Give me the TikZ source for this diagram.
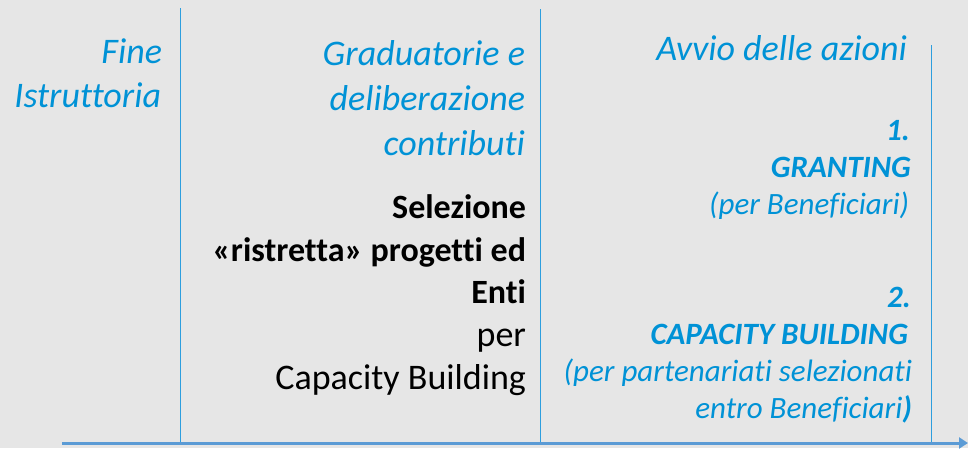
\documentclass[tikz,border=0pt]{standalone}
\usepackage{fontspec}
\setmainfont{Carlito}[Ligatures={NoCommon}]
\usetikzlibrary{arrows.meta}
\definecolor{bgc}{RGB}{230,230,230}
\definecolor{txtblue}{RGB}{0,146,214}
\definecolor{lineblue}{RGB}{45,158,222}
\definecolor{arrowblue}{RGB}{91,155,213}
\begin{document}
\begin{tikzpicture}[x=1pt,y=-1pt,
  lbl/.style={anchor=base east, inner sep=0pt, outer sep=0pt},
  head/.style={lbl, text=txtblue, font=\fontsize{36}{43}\selectfont\itshape},
  blk/.style={lbl, text=black, font=\fontsize{36}{43}\selectfont},
  blkb/.style={lbl, text=black, font=\fontsize{34}{41}\selectfont\bfseries},
  sub/.style={lbl, text=txtblue, font=\fontsize{31}{37}\selectfont\itshape},
  subb/.style={lbl, text=txtblue, font=\fontsize{31}{37}\selectfont\bfseries\itshape},
  vline/.style={draw=lineblue, line width=1.3pt},
  timeline/.style={draw=arrowblue, line width=3pt, -{Triangle[length=9pt,width=11pt]}}]
\fill[bgc] (0,0) rectangle (968,448);
\useasboundingbox (0,0) rectangle (968,448);
% coordinates
\coordinate (v1t) at (180.5,8);
\coordinate (v1b) at (180.5,443);
\coordinate (v2t) at (540.5,9);
\coordinate (v2b) at (540.5,443);
\coordinate (v3t) at (931.5,45);
\coordinate (v3b) at (931.5,443);
\coordinate (tl0) at (62,443);
\coordinate (tl1) at (968,443);
\draw[vline] (v1t) -- (v1b);
\draw[vline] (v2t) -- (v2b);
\draw[vline] (v3t) -- (v3b);
\draw[timeline] (tl0) -- (tl1);
% column 1
\node[head] (c1a) at (162,63) {Fine};
\node[head] (c1b) at (161,107) {Istruttoria};
% column 2
\node[head] (c2a) at (525,65) {Graduatorie e};
\node[head] (c2b) at (525,110) {deliberazione};
\node[head] (c2c) at (525,155) {contributi};
\node[blkb] (c2d) at (526,218) {Selezione};
\node[blkb] (c2e) at (526,261) {«ristretta» progetti ed};
\node[blkb] (c2f) at (526,303) {Enti};
\node[blk] (c2g) at (526,346) {per};
\node[blk] (c2h) at (526,389) {Capacity Building};
% column 3
\node[head] (c3a) at (907,60) {Avvio delle azioni};
\node[subb] (c3b) at (910,140) {1.};
\node[subb] (c3c) at (911,177) {GRANTING};
\node[sub] (c3d) at (909,214) {(per Beneficiari)};
\node[subb] (c3e) at (911,307) {2.};
\node[subb] (c3f) at (908,344) {CAPACITY BUILDING};
\node[sub] (c3g) at (912,381) {(per partenariati selezionati};
\node[sub] (c3h) at (912,418) {entro Beneficiari{\bfseries)}};
\end{tikzpicture}
\end{document}
